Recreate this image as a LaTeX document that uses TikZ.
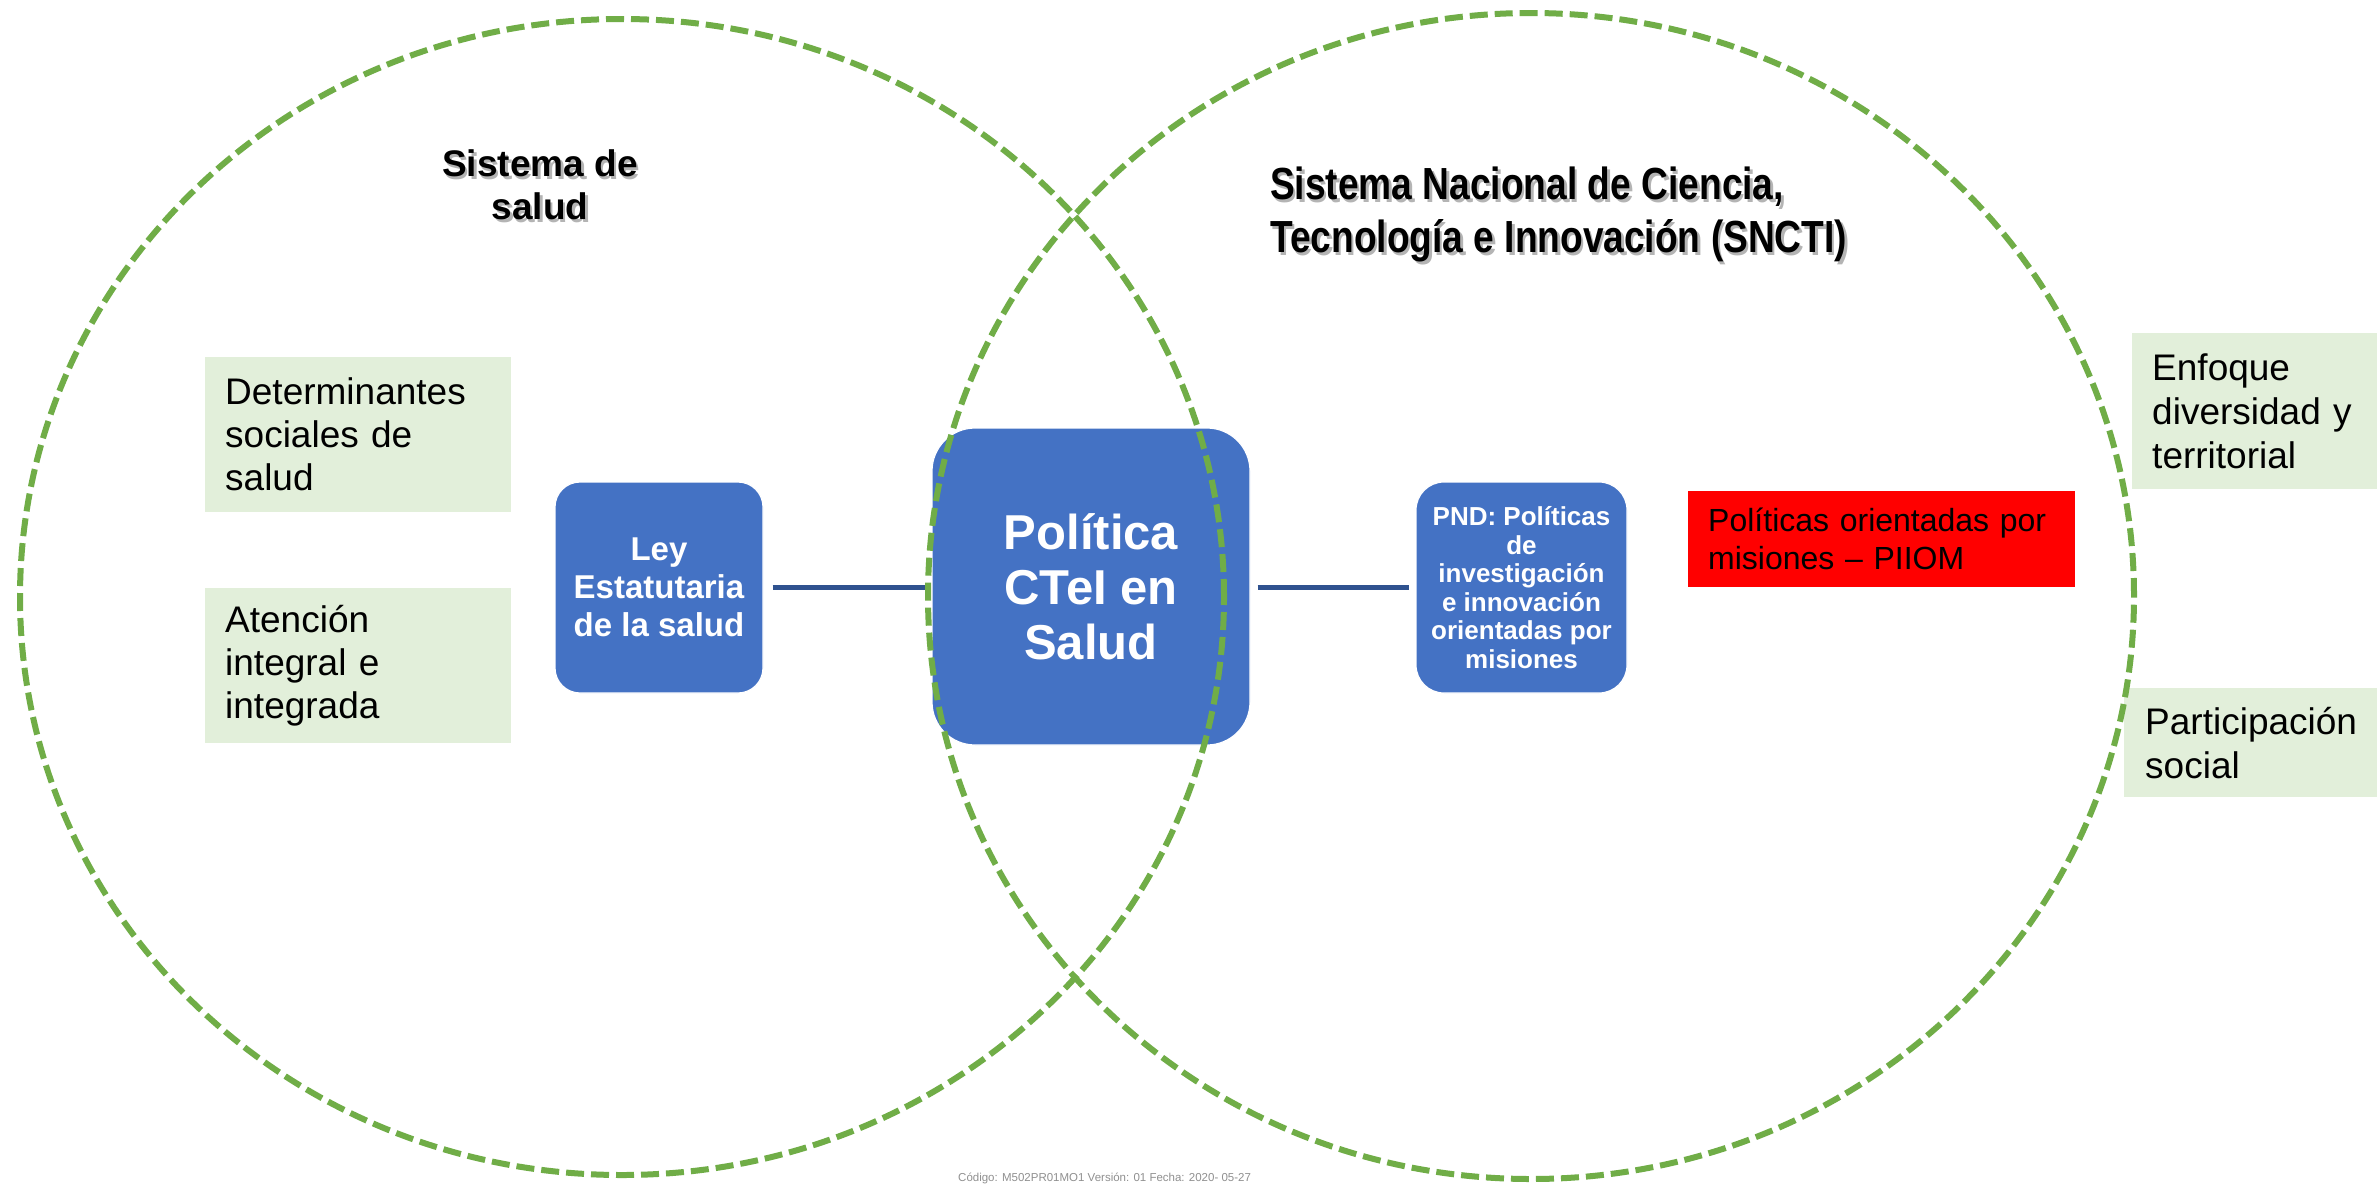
\documentclass[tikz,border=0pt]{standalone}
\usepackage{fontspec}
\setmainfont{Liberation Sans}
\newfontfamily\narrowbold[FakeStretch=0.825]{Liberation Sans Bold}
\definecolor{boxblue}{HTML}{4472C4}
\definecolor{lineblue}{HTML}{2F528F}
\definecolor{softgreen}{HTML}{E2EFDA}
\definecolor{dashgreen}{HTML}{70AD47}
\definecolor{footgray}{HTML}{909090}
\definecolor{shadowgray}{HTML}{B4B4B4}
\begin{document}
\begin{tikzpicture}[x=1pt,y=-1pt,
  greenbox/.style={fill=softgreen, draw=none, align=left, inner ysep=0pt, text=black, anchor=north west},
  bluebox/.style={fill=boxblue, draw=white, line width=1.2pt, text=white, align=center, inner sep=0pt},
  redbox/.style={fill=red, draw=none, align=left, inner xsep=20pt, inner ysep=0pt, text=black, anchor=north west},
  connector/.style={draw=lineblue, line width=5pt},
  circ/.style={draw=dashgreen, line width=6pt, dash pattern=on 18pt off 7pt},
  titletext/.style={inner sep=0pt, text=black},
  titleshadow/.style={inner sep=0pt, text=shadowgray}
]
\useasboundingbox (0,0) rectangle (2377,1184);
\fill[white] (0,0) rectangle (2377,1184);

% green boxes
\node[greenbox, inner xsep=20pt, text width=266pt, minimum height=155pt,
  font=\fontsize{37}{43}\selectfont] (g1) at (205,357) {Determinantes\\sociales de\\salud};
\node[greenbox, inner xsep=20pt, text width=266pt, minimum height=155pt,
  font=\fontsize{37}{43}\selectfont] (g2) at (205,588) {Atención\\integral e\\integrada};
\node[greenbox, inner xsep=20pt, text width=260pt, minimum height=156pt,
  font=\fontsize{37}{44}\selectfont] (enf) at (2132,333) {Enfoque\\diversidad y\\territorial};
\node[greenbox, inner xsep=21pt, text width=260pt, minimum height=109pt,
  font=\fontsize{37}{44}\selectfont] (par) at (2124,688) {Participación\\social};

% red box
\node[redbox, text width=347pt, minimum height=96pt,
  font=\fontsize{32}{38}\selectfont] (red) at (1688,491) {Políticas orientadas por\\misiones – PIIOM};

% blue boxes
\node[bluebox, minimum width=208pt, minimum height=211pt, rounded corners=25pt,
  font=\bfseries\fontsize{33}{38}\selectfont] (ley) at (659,587.5) {Ley\\Estatutaria\\de la salud};
\node[bluebox, minimum width=318pt, minimum height=317pt, rounded corners=43pt,
  font=\bfseries\fontsize{49}{55}\selectfont] (pol) at (1091,586.5) {Política\\CTeI en\\Salud};
\node[bluebox, minimum width=211pt, minimum height=211pt, rounded corners=28pt,
  font=\bfseries\fontsize{26}{28.5}\selectfont] (pnd) at (1521.5,587.5) {PND: Políticas\\de\\investigación\\e innovación\\orientadas por\\misiones};

% connectors
\draw[connector, shorten <=9pt, shorten >=4pt] (ley.east) -- (ley.east -| pol.west);
\draw[connector, shorten <=7pt, shorten >=6pt] (pnd.west -| pol.east) -- (pnd.west);

% titles with shadow
\node[titleshadow, align=center, font=\bfseries\fontsize{37}{43}\selectfont] (t1s) at (542.5,187.5) {Sistema de\\salud};
\node[titletext, align=center, font=\bfseries\fontsize{37}{43}\selectfont] (t1) at (540,185) {Sistema de\\salud};
\node[titleshadow, align=left, anchor=north west, font=\narrowbold\fontsize{45}{53}\selectfont] (t2s) at (1272.5,169.5) {Sistema Nacional de Ciencia,\\Tecnología e Innovación (SNCTI)};
\node[titletext, align=left, anchor=north west, font=\narrowbold\fontsize{45}{53}\selectfont] (t2) at (1270,167) {Sistema Nacional de Ciencia,\\Tecnología e Innovación (SNCTI)};

% footer
\node[anchor=base west, inner sep=0pt, text=footgray, font=\fontsize{11.5}{13}\selectfont] (foot) at (958,1181) {Código: M502PR01MO1 Versión: 01 Fecha: 2020- 05-27};

% dashed circles
\draw[circ] (622,597) ellipse [x radius=602pt, y radius=578pt];
\draw[circ] (1531,596) ellipse [x radius=603pt, y radius=583pt];
\end{tikzpicture}
\end{document}
